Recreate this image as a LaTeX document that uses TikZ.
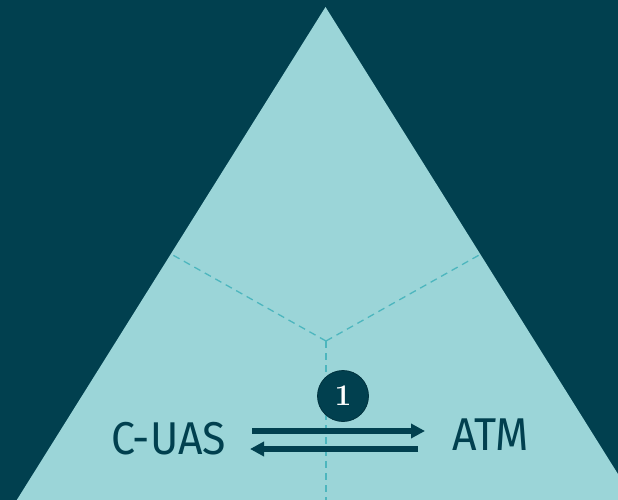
\documentclass[tikz,border=0pt]{standalone}
\usepackage{fontspec}
\newfontfamily\partyfont{Fira Sans}[FakeStretch=0.93]
\usetikzlibrary{arrows.meta}
\definecolor{deepteal}{HTML}{01404F}
\definecolor{paleteal}{HTML}{9BD5D8}
\definecolor{dashteal}{HTML}{4DB6BE}
\tikzset{badge/.style={circle,fill=deepteal,draw=deepteal!80!black,line width=.8pt,
    minimum size=51pt,inner sep=0pt,text=white,font=\bfseries\fontsize{30}{30}\selectfont},
  party/.style={inner sep=0pt,text=deepteal,font=\partyfont\fontsize{46}{46}\selectfont},
  divider/.style={dashteal,line width=1.3pt,dash pattern=on 7pt off 5pt},
  arrow/.style={deepteal,-{Triangle[length=14pt,width=14pt]},line width=5.5pt}}

\begin{document}
\begin{tikzpicture}[x=1pt,y=-1pt]
  \path[use as bounding box] (0,0) rectangle (618,500);
  \fill[deepteal] (0,0) rectangle (618,500);
  \clip (0,0) rectangle (618,500);
  \fill[paleteal] (325.5,7) -- (3,522) -- (648,522) -- cycle;
  % three sectors meet in the middle
  \coordinate (hub) at (326,341);
  \draw[divider] (hub) -- (171,254);
  \draw[divider] (hub) -- (481,254);
  \draw[divider] (hub) -- (326,500);
  \node[badge] (one) at (343,396) {1};
  \node[party,anchor=east] (cuas) at (226,439) {C-UAS};
  \node[party,anchor=west] (atm) at (452,435) {ATM};
  \draw[arrow] ([yshift=8pt]cuas.east) ++(26,0) -- ([yshift=4pt,xshift=-27pt]atm.west);
  \draw[arrow] ([yshift=-14pt,xshift=-34pt]atm.west) -- ([yshift=-10pt,xshift=24pt]cuas.east);
\end{tikzpicture}
\end{document}
